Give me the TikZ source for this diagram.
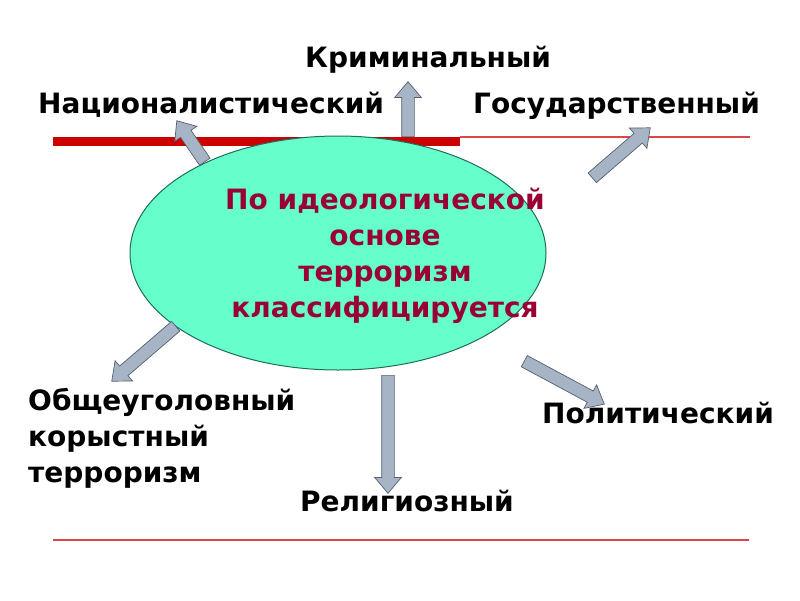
\documentclass[tikz,border=0pt]{standalone}
\usepackage{fontspec}
\setmainfont{DejaVu Sans}
\usepackage{tikz}
\usetikzlibrary{shapes.geometric, shapes.arrows, calc}
\definecolor{ovalFill}{RGB}{102, 255, 204}
\definecolor{ovalEdge}{RGB}{30, 110, 90}
\definecolor{ovalText}{RGB}{153, 0, 51}
\definecolor{barRed}{RGB}{204, 0, 0}
\definecolor{lineRed}{RGB}{220, 70, 70}
\definecolor{arrowFill}{RGB}{166, 180, 198}
\definecolor{arrowEdge}{RGB}{85, 95, 110}

\begin{document}
\begin{tikzpicture}[x=1pt, y=-1pt,
    kind/.style={font=\fontsize{28}{36}\selectfont\bfseries, inner sep=0pt},
    pointer/.style={single arrow, draw=arrowEdge, fill=arrowFill, line width=0.7pt,
      inner xsep=0pt, inner ysep=6pt, single arrow head extend=7pt,
      single arrow tip angle=80, anchor=tail}]
        \useasboundingbox (0,0) rectangle (800,600);
        \draw[barRed, line width=9pt] (53,141.5) -- (460,141.5);
        \draw[lineRed, line width=1.2pt] (460,137) -- (750,137);
        \draw[lineRed, line width=1.5pt] (53,540) -- (749,540);
        \node[ellipse, draw=ovalEdge, fill=ovalFill, line width=1pt, inner sep=0pt,
          minimum width=416pt, minimum height=234pt] (ell) at (338,253) {};
        \node[kind, text=ovalText, align=center] (topic) at (385,256)
          {По идеологической\\основе\\терроризм\\классифицируется};
        \node[kind, anchor=base west] (crim) at (305,67) {Криминальный};
        \node[kind, anchor=base west] (nat) at (38,113) {Националистический};
        \node[kind, anchor=base west] (state) at (473,113) {Государственный};
        \node[kind, anchor=west, align=left] (common) at (28,438)
          {Общеуголовный\\корыстный\\терроризм};
        \node[kind, anchor=base west] (pol) at (542,423) {Политический};
        \node[kind, anchor=base west] (rel) at (300,511) {Религиозный};
        % arrow ends
        \coordinate (a1) at (408,137);  \coordinate (b1) at (408,82);
        \coordinate (a2) at (205,162);  \coordinate (b2) at (177,121);
        \coordinate (a3) at (592,178);  \coordinate (b3) at (650,128);
        \coordinate (a4) at (176,326);  \coordinate (b4) at (112,381);
        \coordinate (a5) at (388,375);  \coordinate (b5) at (388,493);
        \coordinate (a6) at (524,361);  \coordinate (b6) at (604,404);
        \foreach \i in {1,...,6}
          \path let \p1=(a\i), \p2=(b\i),
            \n1={atan2(\y2-\y1,\x2-\x1)}, \n2={veclen(\x2-\x1,\y2-\y1)} in
            node[pointer, minimum height=\n2, rotate=\n1] at (\p1) {};
      \end{tikzpicture}
\end{document}
